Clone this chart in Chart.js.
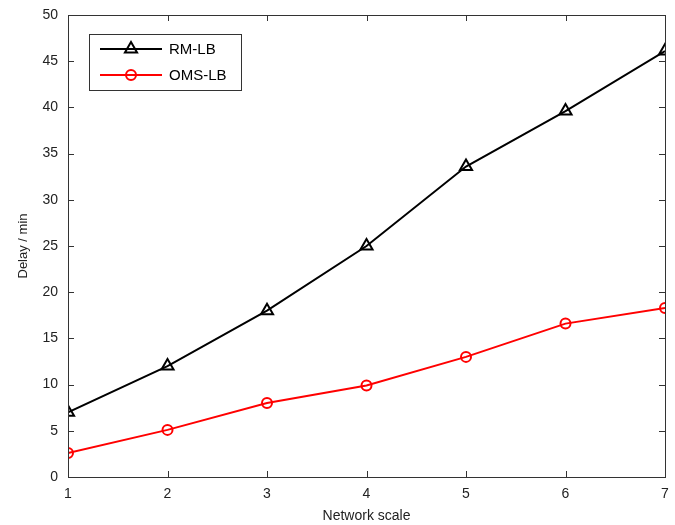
<!DOCTYPE html>
<html>
<head>
<meta charset="utf-8">
<script src="https://cdn.jsdelivr.net/npm/chart.js@4/dist/chart.umd.min.js"></script>
<style>
  html, body { margin: 0; padding: 0; background: #fff; }
  #wrap { width: 675px; height: 525px; }
</style>
</head>
<body>
<div id="wrap"><canvas id="delayChart"></canvas></div>
<script>
const scales_x = [1, 2, 3, 4, 5, 6, 7];
const rmLb = [7, 12, 18, 25, 33.6, 39.6, 46.1];
const omsLb = [2.6, 5.1, 8, 9.9, 13, 16.6, 18.3];
const yTicks = [0, 5, 10, 15, 20, 25, 30, 35, 40, 45, 50];

const axisColor = '#333333';
const fontFamily = '"Liberation Sans", Arial, sans-serif';

// frame + inward ticks on all four sides, like the original figure
const framePlugin = {
    id: 'frame',
    afterDraw(chart) {
        const { ctx, chartArea: a, scales } = chart;
        ctx.save();
        ctx.strokeStyle = axisColor;
        ctx.lineWidth = 1;
        ctx.strokeRect(a.left + 0.5, a.top + 0.5, a.right - a.left, a.bottom - a.top);
        const len = 6;
        ctx.beginPath();
        scales_x.forEach(v => {
            const px = Math.round(scales.x.getPixelForValue(v)) + 0.5;
            ctx.moveTo(px, a.bottom); ctx.lineTo(px, a.bottom - len);
            ctx.moveTo(px, a.top); ctx.lineTo(px, a.top + len);
        });
        yTicks.forEach(v => {
            const py = Math.round(scales.y.getPixelForValue(v)) + 0.5;
            ctx.moveTo(a.left, py); ctx.lineTo(a.left + len, py);
            ctx.moveTo(a.right, py); ctx.lineTo(a.right - len, py);
        });
        ctx.stroke();
        ctx.restore();
    }
};

// boxed legend inside the plot, line with marker in the middle
const legendPlugin = {
    id: 'boxLegend',
    afterDraw(chart) {
        const { ctx } = chart;
        const x0 = 89, y0 = 34, w = 152, h = 56;
        ctx.save();
        ctx.fillStyle = '#fff';
        ctx.fillRect(x0, y0, w, h);
        ctx.strokeStyle = axisColor;
        ctx.lineWidth = 1;
        ctx.strokeRect(x0 + 0.5, y0 + 0.5, w, h);
        chart.data.datasets.forEach((ds, i) => {
            const y = y0 + 15 + i * 26;
            ctx.strokeStyle = ds.borderColor;
            ctx.lineWidth = 2;
            ctx.beginPath();
            ctx.moveTo(x0 + 11, y); ctx.lineTo(x0 + 73, y);
            ctx.stroke();
            ctx.lineWidth = 2;
            ctx.fillStyle = 'rgba(0,0,0,0)';
            Chart.helpers.drawPoint(ctx, {
                pointStyle: ds.pointStyle, radius: ds.pointRadius, borderWidth: 2
            }, x0 + 42, y);
            ctx.fillStyle = '#000';
            ctx.font = '15px ' + fontFamily;
            ctx.textBaseline = 'middle';
            ctx.fillText(ds.label, x0 + 80, y + 1);
        });
        ctx.restore();
    }
};

new Chart(document.getElementById('delayChart'), {
    type: 'line',
    data: {
        datasets: [
            {
                label: 'RM-LB',
                data: scales_x.map((x, i) => ({ x, y: rmLb[i] })),
                borderColor: '#000000',
                backgroundColor: 'rgba(0,0,0,0)',
                borderWidth: 2,
                pointStyle: 'triangle',
                pointRadius: 7,
                pointBorderWidth: 2,
                tension: 0
            },
            {
                label: 'OMS-LB',
                data: scales_x.map((x, i) => ({ x, y: omsLb[i] })),
                borderColor: '#ff0000',
                backgroundColor: 'rgba(0,0,0,0)',
                borderWidth: 2,
                pointStyle: 'circle',
                pointRadius: 5,
                pointBorderWidth: 2,
                tension: 0
            }
        ]
    },
    options: {
        responsive: true,
        maintainAspectRatio: false,
        animation: false,
        layout: { padding: { top: 15, right: 10, left: 0, bottom: 0 } },
        plugins: { legend: { display: false }, tooltip: { enabled: false } },
        scales: {
            x: {
                type: 'linear',
                min: 1, max: 7,
                afterFit: s => { s.height = 48; },
                afterBuildTicks: s => { s.ticks = scales_x.map(v => ({ value: v })); },
                grid: { display: false },
                border: { display: false },
                ticks: { color: '#222', font: { size: 14, family: fontFamily }, padding: 1, maxRotation: 0 },
                title: { display: true, text: 'Network scale', color: '#222', font: { size: 14, family: fontFamily, lineHeight: 1.0 }, padding: { top: 7, bottom: 2 } }
            },
            y: {
                min: 0, max: 50,
                afterFit: s => { s.width = 68; },
                afterBuildTicks: s => { s.ticks = yTicks.map(v => ({ value: v })); },
                grid: { display: false },
                border: { display: false },
                ticks: { color: '#222', font: { size: 14, family: fontFamily }, padding: 2 },
                title: { display: true, text: 'Delay / min', color: '#222', font: { size: 13, family: fontFamily }, padding: { top: 16, bottom: 4 } }
            }
        }
    },
    plugins: [framePlugin, legendPlugin]
});
</script>
</body>
</html>
